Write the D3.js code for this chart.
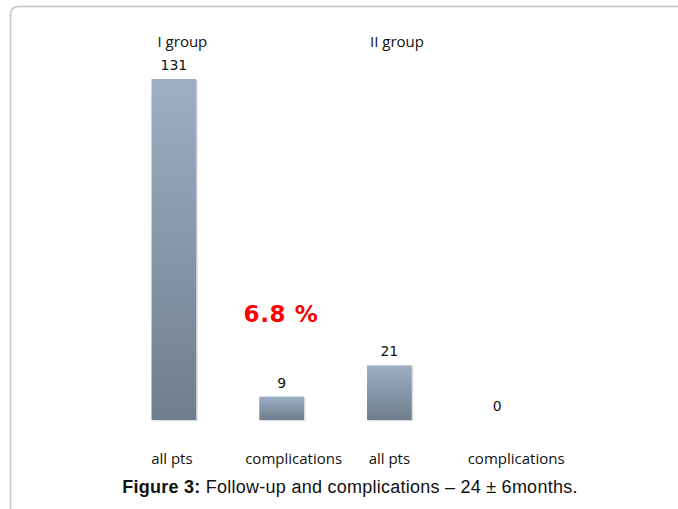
<!DOCTYPE html>
<html>
<head>
<meta charset="utf-8">
<script src="https://cdn.jsdelivr.net/npm/d3@7"></script>
<style>
  html, body { margin: 0; padding: 0; background: #fff; }
  svg { display: block; }
</style>
</head>
<body>
<div class="chart"></div>
<script>
// chart data
const categories = ["all pts", "complications", "all pts ", "complications "];
const labels = ["all pts", "complications", "all pts", "complications"];
const values = [131, 9, 21, 0];
const groups = [
    { name: "I group", first: 0 },
    { name: "II group", first: 2 }
];
const noteText = "6.8 %";
const caption = { bold: "Figure 3:", rest: " Follow-up and complications \u2013 24 \u00b1 6months." };

const width = 678;
const height = 509;

const svg = d3.select(".chart")
    .append("svg")
    .attr("width", width)
    .attr("height", height);

// gradient for the bars
const defs = svg.append("defs");
const grad = defs.append("linearGradient")
    .attr("id", "barFill")
    .attr("x1", 0).attr("y1", 0).attr("x2", 0).attr("y2", 1);
grad.append("stop").attr("offset", "0%").attr("stop-color", "#9cafc4");
grad.append("stop").attr("offset", "100%").attr("stop-color", "#6f7e8e");

// frame round the figure (rounded top-left corner only)
svg.append("path")
    .attr("d", "M10.5,509 V15 Q10.5,6.5 19,6.5 H678")
    .attr("fill", "none")
    .attr("stroke", "#c4c4c4")
    .attr("stroke-width", 1.5);

const x = d3.scaleBand()
    .domain(categories)
    .range([120, 551])
    .paddingInner(0.585)
    .paddingOuter(0.2925);

const y = d3.scaleLinear()
    .domain([0, 131])
    .range([420, 79]);

const bars = svg.append("g");
const barData = values.map((v, i) => ({ cat: categories[i], v })).filter(d => d.v > 0);

// light shadow on the right/bottom side
bars.selectAll("rect.shadow")
    .data(barData)
    .join("rect")
    .attr("class", "shadow")
    .attr("x", d => x(d.cat) + 1.5)
    .attr("y", d => y(d.v) + 1)
    .attr("width", x.bandwidth())
    .attr("height", d => y(0) - y(d.v))
    .attr("fill", "#d9dde2");

bars.selectAll("rect.bar")
    .data(barData)
    .join("rect")
    .attr("class", "bar")
    .attr("x", d => x(d.cat))
    .attr("y", d => y(d.v))
    .attr("width", x.bandwidth())
    .attr("height", d => y(0) - y(d.v))
    .attr("fill", "url(#barFill)");

// value labels above the bars
svg.append("g")
    .selectAll("text")
    .data(values.map((v, i) => ({ cat: categories[i], v })))
    .join("text")
    .attr("x", d => x(d.cat) + x.bandwidth() / 2)
    .attr("y", d => y(d.v) - 9)
    .attr("text-anchor", "middle")
    .attr("font-family", "DejaVu Sans, Verdana, sans-serif")
    .attr("font-size", 14)
    .attr("fill", "#111")
    .text(d => d.v);

// category labels; the original sits them a bit off the bar centres
const labelShift = [-2, 12, 0, 19];
svg.append("g")
    .selectAll("text")
    .data(labels)
    .join("text")
    .attr("x", (d, i) => x(categories[i]) + x.bandwidth() / 2 + labelShift[i])
    .attr("y", 464)
    .attr("text-anchor", "middle")
    .attr("font-family", "Open Sans, sans-serif")
    .attr("font-size", 15)
    .attr("fill", "#111")
    .text(d => d);

// group names over the first bar of each group
svg.append("g")
    .selectAll("text")
    .data(groups)
    .join("text")
    .attr("x", (d, i) => x(categories[d.first]) + (i === 0 ? 6 : 3))
    .attr("y", 47)
    .attr("font-family", "Open Sans, sans-serif")
    .attr("font-size", 15)
    .attr("fill", "#111")
    .text(d => d.name);

// red percentage note between the first two bars
svg.append("text")
    .attr("x", 281)
    .attr("y", 322)
    .attr("text-anchor", "middle")
    .attr("font-family", "DejaVu Sans, Verdana, sans-serif")
    .attr("font-weight", "bold")
    .attr("font-size", 23)
    .attr("letter-spacing", 0.6)
    .attr("fill", "#ff0000")
    .text(noteText);

// caption
const cap = svg.append("text")
    .attr("x", 350)
    .attr("y", 493)
    .attr("text-anchor", "middle")
    .attr("font-family", "Liberation Sans, Arial, sans-serif")
    .attr("font-size", 18)
    .attr("letter-spacing", 0.25)
    .attr("fill", "#111");
cap.append("tspan").attr("font-weight", "bold").text(caption.bold);
cap.append("tspan").text(caption.rest);
</script>
</body>
</html>
